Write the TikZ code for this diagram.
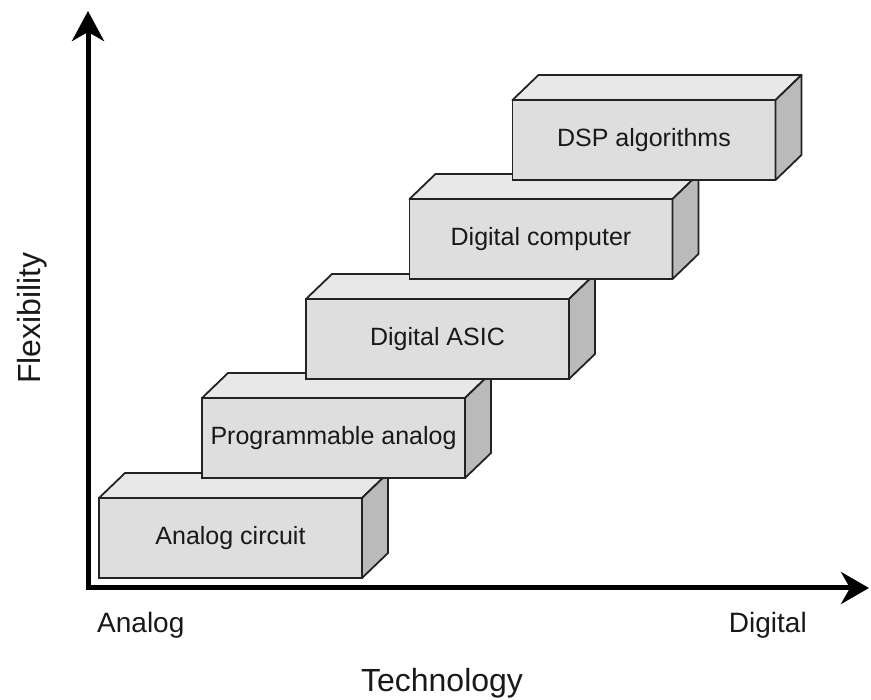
\documentclass[tikz,border=0pt]{standalone}
\usepackage{fontspec}
\setmainfont{Liberation Sans}
\usetikzlibrary{arrows.meta}
\definecolor{frontc}{RGB}{222,222,222}
\definecolor{topc}{RGB}{232,232,232}
\definecolor{sidec}{RGB}{186,186,186}
\definecolor{edgec}{RGB}{35,35,35}
\tikzset{
  frontface/.style={draw=edgec, line width=1.8pt, fill=frontc, minimum width=263pt, minimum height=80pt,
    inner sep=0pt, outer sep=0pt, font=\fontsize{25}{30}\selectfont, text=black!90},
  topface/.style={draw=edgec, line width=1.8pt, fill=topc, line join=round},
  sideface/.style={draw=edgec, line width=1.8pt, fill=sidec, line join=round},
  axisline/.style={line width=5pt, black, line join=miter, {Stealth[length=30pt,width=32pt,inset=9pt]}-{Stealth[length=28pt,width=32pt,inset=9pt]}},
  axislabel/.style={inner sep=0pt, text=black!90}
}
\newcommand\boxfaces[1]{%
  \path[topface] (#1.north west) -- ++(26,-25) -- ++(263,0) -- (#1.north east) -- cycle;
  \path[sideface] (#1.north east) -- ++(26,-25) -- ++(0,80) -- (#1.south east) -- cycle;
}
\begin{document}
\begin{tikzpicture}[x=1pt,y=-1pt]
\useasboundingbox (0,0) rectangle (871,700);
% axes
\coordinate (ytop) at (88,11);
\coordinate (orig) at (88,588);
\coordinate (xend) at (869,588);
\draw[axisline] (ytop) -- (orig) -- (xend);
% boxes (bottom to top)
\node[frontface] (b1) at (230.5,538) {Analog circuit};
\boxfaces{b1}
\node[frontface] (b2) at (333.5,438) {Programmable analog};
\boxfaces{b2}
\node[frontface] (b3) at (437.5,339) {Digital ASIC};
\boxfaces{b3}
\node[frontface] (b4) at (541,239) {Digital computer};
\boxfaces{b4}
\node[frontface] (b5) at (644,140) {DSP algorithms};
\boxfaces{b5}
% labels
\node[axislabel, anchor=base west, font=\fontsize{28}{32}\selectfont] (lanalog) at (97,633) {Analog};
\node[axislabel, anchor=base east, font=\fontsize{28}{32}\selectfont] (ldigital) at (807,632) {Digital};
\node[axislabel, anchor=base, font=\fontsize{32}{36}\selectfont] (ltech) at (442,691) {Technology};
\node[axislabel, anchor=base, rotate=90, font=\fontsize{32}{36}\selectfont] (lflex) at (40,318) {Flexibility};
\end{tikzpicture}
\end{document}
